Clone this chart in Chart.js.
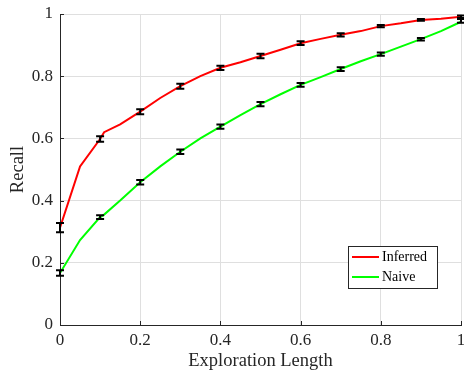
<!DOCTYPE html>
<html>
<head>
<meta charset="utf-8">
<script src="https://cdn.jsdelivr.net/npm/chart.js@4"></script>
<style>
  html, body { margin: 0; padding: 0; background: #fff; }
  #wrap { width: 464px; height: 372px; }
</style>
</head>
<body>
<div id="wrap"><canvas id="c" width="464" height="372"></canvas></div>
<script>
// line samples
const xs = [0, 0.05, 0.1, 0.11, 0.15, 0.2, 0.25, 0.3, 0.35, 0.4, 0.45, 0.5, 0.55, 0.6, 0.65, 0.7, 0.75, 0.8, 0.85, 0.9, 0.95, 1];
const inferred = [0.313, 0.51, 0.598, 0.62, 0.645, 0.686, 0.73, 0.768, 0.80, 0.827, 0.845, 0.865, 0.885, 0.906, 0.92, 0.933, 0.945, 0.961, 0.97, 0.981, 0.985, 0.991];
const naive = [0.167, 0.273, 0.347, 0.355, 0.40, 0.459, 0.51, 0.557, 0.60, 0.638, 0.675, 0.710, 0.742, 0.772, 0.797, 0.823, 0.848, 0.871, 0.895, 0.919, 0.945, 0.975];

// error bars
const errX = [0, 0.1, 0.2, 0.3, 0.4, 0.5, 0.6, 0.7, 0.8, 0.9, 1];
const inferredMean = [0.313, 0.598, 0.686, 0.768, 0.827, 0.865, 0.906, 0.933, 0.961, 0.981, 0.991];
const inferredErr = [0.015, 0.009, 0.008, 0.008, 0.007, 0.007, 0.006, 0.005, 0.004, 0.003, 0.004];
const naiveMean = [0.167, 0.347, 0.459, 0.557, 0.638, 0.710, 0.772, 0.823, 0.871, 0.919, 0.978];
const naiveErr = [0.009, 0.006, 0.007, 0.007, 0.007, 0.007, 0.006, 0.006, 0.005, 0.004, 0.006];

const xTicks = [0, 0.2, 0.4, 0.6, 0.8, 1];
const yTicks = [0, 0.2, 0.4, 0.6, 0.8, 1];
const fmt = v => String(Math.round(v * 10) / 10);

const serif = "'Liberation Serif', 'Times New Roman', serif";
const dark = "#262626";

const errorBars = {
  id: "errorBars",
  afterDatasetsDraw(chart) {
    const ctx = chart.ctx, x = chart.scales.x, y = chart.scales.y;
    const sets = [[inferredMean, inferredErr], [naiveMean, naiveErr]];
    ctx.save();
    ctx.strokeStyle = "#000";
    ctx.lineWidth = 2;
    sets.forEach(([m, e]) => {
      errX.forEach((xv, i) => {
        const px = x.getPixelForValue(xv);
        const top = y.getPixelForValue(m[i] + e[i]);
        const bot = y.getPixelForValue(m[i] - e[i]);
        ctx.beginPath();
        ctx.moveTo(px, top); ctx.lineTo(px, bot);
        ctx.moveTo(px - 4, top); ctx.lineTo(px + 4, top);
        ctx.moveTo(px - 4, bot); ctx.lineTo(px + 4, bot);
        ctx.stroke();
      });
    });
    ctx.restore();
  }
};

const axisTicks = {
  id: "axisTicks",
  afterDraw(chart) {
    const ctx = chart.ctx, x = chart.scales.x, y = chart.scales.y;
    const a = chart.chartArea;
    ctx.save();
    ctx.strokeStyle = dark;
    ctx.lineWidth = 1;
    ctx.beginPath();
    xTicks.forEach(v => {
      const px = Math.round(x.getPixelForValue(v)) + 0.5;
      ctx.moveTo(px, a.bottom); ctx.lineTo(px, a.bottom - 4);
    });
    yTicks.forEach(v => {
      const py = Math.round(y.getPixelForValue(v)) + 0.5;
      ctx.moveTo(a.left, py); ctx.lineTo(a.left + 4, py);
    });
    ctx.stroke();

    // legend box
    const bx = 348, by = 246, bw = 89, bh = 42;
    ctx.fillStyle = "#fff";
    ctx.fillRect(bx, by, bw, bh);
    ctx.strokeStyle = "#262626";
    ctx.strokeRect(bx + 0.5, by + 0.5, bw, bh);
    ctx.font = "14px " + serif;
    ctx.textBaseline = "middle";
    chart.data.datasets.forEach((ds, i) => {
      const ly = by + 11 + i * 20;
      ctx.strokeStyle = ds.borderColor;
      ctx.lineWidth = 2;
      ctx.beginPath();
      ctx.moveTo(bx + 4, ly); ctx.lineTo(bx + 31, ly);
      ctx.stroke();
      ctx.fillStyle = "#000";
      ctx.fillText(ds.label, bx + 34, ly);
    });
    ctx.restore();
  }
};

new Chart(document.getElementById("c"), {
  type: "line",
  data: {
    datasets: [
      {
        label: "Inferred",
        data: xs.map((v, i) => ({ x: v, y: inferred[i] })),
        borderColor: "#ff0000",
        borderWidth: 2,
        pointRadius: 0,
        tension: 0
      },
      {
        label: "Naive",
        data: xs.map((v, i) => ({ x: v, y: naive[i] })),
        borderColor: "#00ff00",
        borderWidth: 2,
        pointRadius: 0,
        tension: 0
      }
    ]
  },
  options: {
    responsive: false,
    animation: false,
    layout: { padding: { top: 14, right: 3, left: 0, bottom: 0 } },
    plugins: { legend: { display: false }, tooltip: { enabled: false } },
    scales: {
      x: {
        type: "linear",
        min: 0, max: 1,
        afterBuildTicks: s => { s.ticks = xTicks.map(v => ({ value: v })); },
        afterFit: s => { s.height = 47; s.paddingLeft = 0; s.paddingRight = 0; },
        ticks: { color: dark, padding: 5, font: { family: serif, size: 17 }, maxRotation: 0, callback: fmt },
        grid: { color: "#dfdfdf", drawTicks: false },
        border: { color: dark, width: 1 },
        title: { display: true, text: "Exploration Length", color: dark, padding: { top: 0, bottom: 0 }, font: { family: serif, size: 18.5 } }
      },
      y: {
        min: 0, max: 1,
        afterBuildTicks: s => { s.ticks = yTicks.map(v => ({ value: v })); },
        afterFit: s => { s.width = 60; s.paddingTop = 0; s.paddingBottom = 0; },
        ticks: { color: dark, padding: 7, font: { family: serif, size: 17 }, callback: fmt },
        grid: { color: "#dfdfdf", drawTicks: false },
        border: { color: dark, width: 1 },
        title: { display: true, text: "Recall", color: dark, padding: { top: 7, bottom: 2 }, font: { family: serif, size: 18.5 } }
      }
    }
  },
  plugins: [errorBars, axisTicks]
});
</script>
</body>
</html>
